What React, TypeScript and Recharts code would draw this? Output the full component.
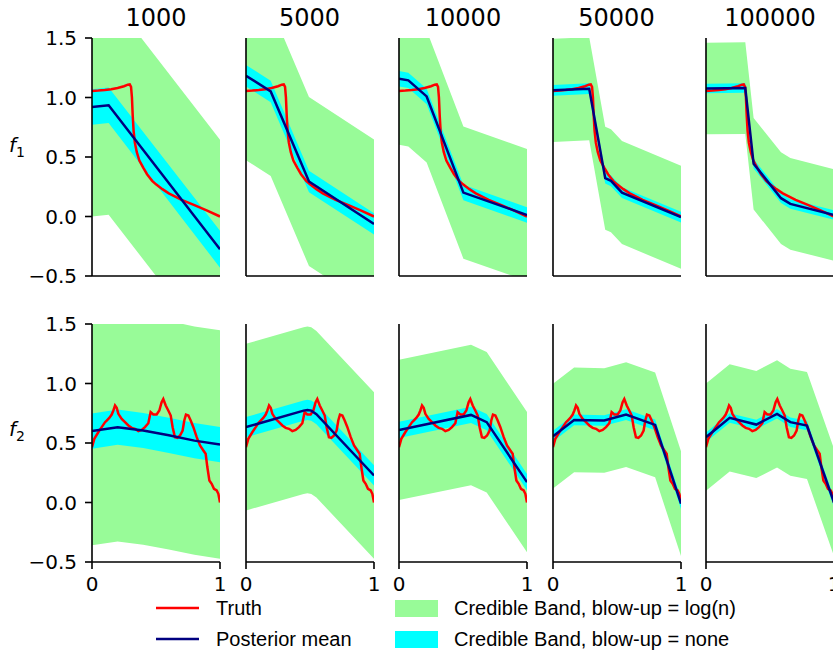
import { Area, ComposedChart, Line, XAxis, YAxis } from "recharts";

const sampleSizes = ["1000", "5000", "10000", "50000", "100000"];
const yTicks = [-0.5, 0, 0.5, 1, 1.5];
const xTicks = [0, 1];

// truth curves
const truthF1X = [0, 0.05, 0.1, 0.15, 0.2, 0.25, 0.28, 0.295, 0.305, 0.312, 0.318, 0.325, 0.335, 0.35, 0.37, 0.4, 0.43, 0.47, 0.5, 0.55, 0.6, 0.7, 0.8, 0.9, 1];
const truthF1Y = [1.055, 1.058, 1.063, 1.07, 1.08, 1.095, 1.108, 1.11, 1.09, 1.0, 0.85, 0.72, 0.62, 0.54, 0.47, 0.41, 0.355, 0.3, 0.27, 0.23, 0.195, 0.14, 0.095, 0.05, 0.0];

const truthF2X = [0, 0.018, 0.049, 0.076, 0.102, 0.115, 0.135, 0.154, 0.167, 0.18, 0.193, 0.206, 0.232, 0.258, 0.284, 0.31, 0.336, 0.362, 0.388, 0.414, 0.44, 0.458, 0.479, 0.505, 0.526, 0.544, 0.557, 0.576, 0.596, 0.615, 0.63, 0.648, 0.667, 0.688, 0.708, 0.721, 0.734, 0.753, 0.771, 0.792, 0.818, 0.844, 0.87, 0.888, 0.901, 0.917, 0.935, 0.953, 0.974, 0.987, 1];
const truthF2Y = [0.465, 0.535, 0.59, 0.633, 0.675, 0.689, 0.711, 0.739, 0.773, 0.815, 0.795, 0.745, 0.703, 0.675, 0.647, 0.627, 0.619, 0.6, 0.61, 0.633, 0.666, 0.759, 0.739, 0.739, 0.773, 0.843, 0.87, 0.815, 0.773, 0.731, 0.633, 0.549, 0.543, 0.563, 0.605, 0.689, 0.739, 0.731, 0.689, 0.633, 0.549, 0.479, 0.437, 0.409, 0.298, 0.185, 0.157, 0.115, 0.101, 0.073, 0.0];

type Fit = { x: number[]; mean: number[]; lo: number[]; hi: number[]; blowLo: number[]; blowHi: number[] };

// f1 posterior fits
const f1n1000: Fit = {
  x: [0, 0.13, 1],
  mean: [0.92, 0.935, -0.275],
  lo: [0.77, 0.785, -0.43],
  hi: [1.07, 1.085, -0.12],
  blowLo: [0.0, 0.015, -1.195],
  blowHi: [1.84, 1.855, 0.645],
};
const f1n5000: Fit = {
  x: [0, 0.193, 0.492, 1],
  mean: [1.183, 1.051, 0.294, -0.062],
  lo: [1.093, 0.961, 0.204, -0.152],
  hi: [1.273, 1.141, 0.384, 0.028],
  blowLo: [0.473, 0.341, -0.416, -0.772],
  blowHi: [1.893, 1.761, 1.004, 0.648],
};
const f1n10000: Fit = {
  x: [0, 0.073, 0.216, 0.503, 1],
  mean: [1.158, 1.144, 1.009, 0.201, 0.013],
  lo: [1.093, 1.079, 0.944, 0.136, -0.052],
  hi: [1.223, 1.209, 1.074, 0.266, 0.078],
  blowLo: [0.603, 0.589, 0.454, -0.354, -0.542],
  blowHi: [1.713, 1.699, 1.564, 0.756, 0.568],
};
const f1n50000: Fit = {
  x: [0, 0.283, 0.408, 0.453, 0.539, 1],
  mean: [1.06, 1.074, 0.322, 0.3, 0.201, -0.006],
  lo: [1.015, 1.029, 0.277, 0.255, 0.156, -0.051],
  hi: [1.105, 1.119, 0.367, 0.345, 0.246, 0.039],
  blowLo: [0.627, 0.641, -0.111, -0.133, -0.232, -0.439],
  blowHi: [1.493, 1.507, 0.755, 0.733, 0.634, 0.427],
};
const f1n100000: Fit = {
  x: [0, 0.307, 0.372, 0.586, 0.659, 1],
  mean: [1.076, 1.079, 0.443, 0.154, 0.106, 0.013],
  lo: [1.036, 1.039, 0.403, 0.114, 0.066, -0.027],
  hi: [1.116, 1.119, 0.483, 0.194, 0.146, 0.053],
  blowLo: [0.691, 0.694, 0.058, -0.231, -0.279, -0.372],
  blowHi: [1.461, 1.464, 0.828, 0.539, 0.491, 0.398],
};

// f2 posterior fits
const f2n1000: Fit = {
  x: [0, 0.2, 0.4, 0.6, 0.8, 1],
  mean: [0.6, 0.633, 0.605, 0.565, 0.52, 0.487],
  lo: [0.452, 0.485, 0.457, 0.417, 0.372, 0.339],
  hi: [0.748, 0.781, 0.753, 0.713, 0.668, 0.635],
  blowLo: [-0.36, -0.327, -0.355, -0.395, -0.44, -0.473],
  blowHi: [1.56, 1.593, 1.565, 1.525, 1.48, 1.447],
};
const f2n5000: Fit = {
  x: [0, 0.45, 0.48, 0.51, 0.55, 1],
  mean: [0.633, 0.772, 0.778, 0.772, 0.742, 0.227],
  lo: [0.548, 0.687, 0.693, 0.687, 0.657, 0.142],
  hi: [0.718, 0.857, 0.863, 0.857, 0.827, 0.312],
  blowLo: [-0.067, 0.072, 0.078, 0.072, 0.042, -0.473],
  blowHi: [1.333, 1.472, 1.478, 1.472, 1.442, 0.927],
};
const f2n10000: Fit = {
  x: [0, 0.5625, 0.685, 1],
  mean: [0.61, 0.736, 0.675, 0.171],
  lo: [0.542, 0.668, 0.607, 0.103],
  hi: [0.678, 0.804, 0.743, 0.239],
  blowLo: [0.02, 0.146, 0.085, -0.419],
  blowHi: [1.2, 1.326, 1.265, 0.761],
};
const f2n50000: Fit = {
  x: [0, 0.165, 0.4, 0.571, 0.798, 1],
  mean: [0.557, 0.694, 0.689, 0.739, 0.652, -0.01],
  lo: [0.512, 0.649, 0.644, 0.694, 0.607, -0.055],
  hi: [0.602, 0.739, 0.734, 0.784, 0.697, 0.035],
  blowLo: [0.117, 0.254, 0.249, 0.299, 0.212, -0.45],
  blowHi: [0.997, 1.134, 1.129, 1.179, 1.092, 0.43],
};
const f2n100000: Fit = {
  x: [0, 0.185, 0.393, 0.555, 0.659, 0.789, 1],
  mean: [0.549, 0.711, 0.655, 0.745, 0.675, 0.647, 0.0],
  lo: [0.509, 0.671, 0.615, 0.705, 0.635, 0.607, -0.04],
  hi: [0.589, 0.751, 0.695, 0.785, 0.715, 0.687, 0.04],
  blowLo: [0.099, 0.261, 0.205, 0.295, 0.225, 0.197, -0.45],
  blowHi: [0.999, 1.161, 1.105, 1.195, 1.125, 1.097, 0.45],
};

const f1Fits = [f1n1000, f1n5000, f1n10000, f1n50000, f1n100000];
const f2Fits = [f2n1000, f2n5000, f2n10000, f2n50000, f2n100000];

const COL_LEFT = [92, 245.5, 399, 552.5, 706];
const ROW_TOP = [38, 323.5];
const PLOT_W = 128;
const PLOT_H = 238;
const Y_W = 80;
const M_TOP = 12;
const M_RIGHT = 10;
const X_H = 40;

const FONT = "'DejaVu Sans', sans-serif";
const LEGEND_FONT = "'Liberation Sans', Arial, sans-serif";

const fmtY = (v: number) => (v < 0 ? "\u2212" + Math.abs(v).toFixed(1) : v.toFixed(1));

type PanelProps = {
  fit: Fit;
  truthX: number[];
  truthY: number[];
  left: number;
  top: number;
  firstCol: boolean;
  bottomRow: boolean;
};

function Panel({ fit, truthX, truthY, left, top, firstCol, bottomRow }: PanelProps) {
  const bands = fit.x.map((x, i) => ({
    x,
    mean: fit.mean[i],
    none: [fit.lo[i], fit.hi[i]],
    logn: [fit.blowLo[i], fit.blowHi[i]],
  }));
  const truth = truthX.map((x, i) => ({ x, truth: truthY[i] }));
  const axisStyle = { stroke: "#000", strokeWidth: 1.6 };
  const tickStyle = { fontSize: 20, fill: "#000", fontFamily: FONT };

  return (
    <div style={{ position: "absolute", left: left - Y_W, top: top - M_TOP }}>
      <ComposedChart
        width={Y_W + PLOT_W + M_RIGHT}
        height={M_TOP + PLOT_H + X_H}
        margin={{ top: M_TOP, right: M_RIGHT, left: 0, bottom: 0 }}
      >
        <XAxis
          type="number"
          dataKey="x"
          domain={[0, 1]}
          ticks={xTicks}
          height={X_H}
          axisLine={axisStyle}
          tickLine={axisStyle}
          tickSize={7}
          tickMargin={8}
          tick={bottomRow ? tickStyle : false}
          allowDataOverflow
        />
        <YAxis
          type="number"
          domain={[-0.5, 1.5]}
          ticks={yTicks}
          width={Y_W}
          axisLine={axisStyle}
          tickLine={axisStyle}
          tickSize={7}
          tickMargin={8}
          tick={firstCol ? tickStyle : false}
          tickFormatter={fmtY}
          allowDataOverflow
        />
        <Area data={bands} dataKey="logn" type="linear" stroke="none" fill="#98fb98" fillOpacity={1} isAnimationActive={false} />
        <Area data={bands} dataKey="none" type="linear" stroke="none" fill="#00ffff" fillOpacity={1} isAnimationActive={false} />
        <Line data={truth} dataKey="truth" type="linear" stroke="#ff0000" strokeWidth={2.5} dot={false} isAnimationActive={false} />
        <Line data={bands} dataKey="mean" type="linear" stroke="#000080" strokeWidth={2.5} dot={false} isAnimationActive={false} />
      </ComposedChart>
    </div>
  );
}

export default function App() {
  return (
    <div
      style={{
        position: "absolute",
        left: 0,
        top: 0,
        width: 833,
        height: 651,
        overflow: "hidden",
        background: "#fff",
      }}
    >
      {f1Fits.map((fit, c) => (
        <Panel key={"f1" + c} fit={fit} truthX={truthF1X} truthY={truthF1Y} left={COL_LEFT[c]} top={ROW_TOP[0]} firstCol={c === 0} bottomRow={false} />
      ))}
      {f2Fits.map((fit, c) => (
        <Panel key={"f2" + c} fit={fit} truthX={truthF2X} truthY={truthF2Y} left={COL_LEFT[c]} top={ROW_TOP[1]} firstCol={c === 0} bottomRow={true} />
      ))}
      <svg width={833} height={651} style={{ position: "absolute", left: 0, top: 0, pointerEvents: "none" }}>
        {sampleSizes.map((n, c) => (
          <text key={n} x={COL_LEFT[c] + PLOT_W / 2} y={26} textAnchor="middle" fontSize={24} fontFamily={FONT} fill="#000">
            {n}
          </text>
        ))}
        <text x={9} y={152} fontSize={20} fontFamily={FONT} fill="#000">
          <tspan fontStyle="italic">f</tspan>
          <tspan fontSize={14} dy={5}>1</tspan>
        </text>
        <text x={9} y={436} fontSize={20} fontFamily={FONT} fill="#000">
          <tspan fontStyle="italic">f</tspan>
          <tspan fontSize={14} dy={5}>2</tspan>
        </text>

        <line x1={156} x2={199} y1={608} y2={608} stroke="#ff0000" strokeWidth={2.5} />
        <text x={216} y={615} fontSize={20} fontFamily={LEGEND_FONT} fill="#000">Truth</text>
        <line x1={156} x2={199} y1={639} y2={639} stroke="#000080" strokeWidth={2.5} />
        <text x={216} y={646} fontSize={20} fontFamily={LEGEND_FONT} fill="#000">Posterior mean</text>

        <rect x={395} y={600} width={43} height={17} fill="#98fb98" />
        <text x={454} y={615} fontSize={20} fontFamily={LEGEND_FONT} fill="#000">Credible Band, blow-up = log(n)</text>
        <rect x={395} y={631} width={43} height={17} fill="#00ffff" />
        <text x={454} y={646} fontSize={20} fontFamily={LEGEND_FONT} fill="#000">Credible Band, blow-up = none</text>
      </svg>
    </div>
  );
}
